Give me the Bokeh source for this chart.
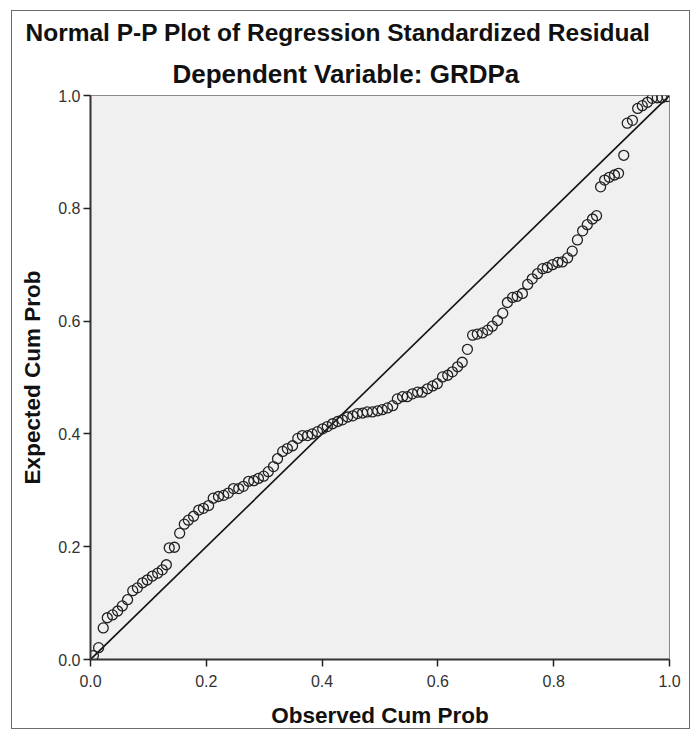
from bokeh.plotting import figure
from bokeh.models import Title, FixedTicker, PrintfTickFormatter
from bokeh.embed import file_html
from bokeh.resources import INLINE

# Observed cumulative probability (x) and expected cumulative probability (y)
observed = [
    0.005, 0.014, 0.022, 0.029, 0.038, 0.047, 0.055, 0.064, 0.073, 0.081,
    0.090, 0.098, 0.107, 0.116, 0.124, 0.131, 0.136, 0.145, 0.154, 0.162,
    0.169, 0.178, 0.187, 0.195, 0.204, 0.212, 0.221, 0.230, 0.238, 0.247,
    0.256, 0.264, 0.273, 0.282, 0.290, 0.299, 0.307, 0.316, 0.323, 0.332,
    0.340, 0.349, 0.358, 0.366, 0.375, 0.383, 0.392, 0.401, 0.409, 0.418,
    0.427, 0.435, 0.444, 0.453, 0.461, 0.470, 0.478, 0.487, 0.496, 0.504,
    0.513, 0.522, 0.530, 0.539, 0.547, 0.556, 0.565, 0.573, 0.582, 0.591,
    0.599, 0.608, 0.617, 0.625, 0.634, 0.642, 0.651, 0.660, 0.668, 0.677,
    0.686, 0.694, 0.703, 0.712, 0.720, 0.729, 0.737, 0.746, 0.755, 0.763,
    0.772, 0.781, 0.789, 0.798, 0.807, 0.815, 0.824, 0.832, 0.841, 0.850,
    0.858, 0.867, 0.874, 0.881, 0.888, 0.896, 0.905, 0.912, 0.921, 0.927,
    0.936, 0.945, 0.953, 0.962, 0.970, 0.979, 0.987, 0.996,
]
expected = [
    0.007, 0.021, 0.056, 0.074, 0.079, 0.086, 0.095, 0.106, 0.122, 0.127,
    0.136, 0.141, 0.148, 0.153, 0.159, 0.168, 0.198, 0.199, 0.224, 0.240,
    0.247, 0.254, 0.265, 0.268, 0.273, 0.286, 0.289, 0.291, 0.295, 0.303,
    0.303, 0.307, 0.316, 0.317, 0.321, 0.325, 0.333, 0.342, 0.356, 0.369,
    0.374, 0.379, 0.392, 0.397, 0.397, 0.400, 0.404, 0.409, 0.413, 0.418,
    0.422, 0.425, 0.430, 0.432, 0.436, 0.437, 0.439, 0.439, 0.441, 0.443,
    0.446, 0.450, 0.462, 0.466, 0.466, 0.471, 0.474, 0.474, 0.480, 0.485,
    0.489, 0.501, 0.504, 0.510, 0.519, 0.527, 0.550, 0.575, 0.577, 0.579,
    0.584, 0.591, 0.601, 0.614, 0.633, 0.642, 0.644, 0.649, 0.665, 0.675,
    0.684, 0.693, 0.695, 0.700, 0.704, 0.705, 0.712, 0.724, 0.744, 0.760,
    0.771, 0.781, 0.787, 0.838, 0.850, 0.855, 0.859, 0.862, 0.894, 0.951,
    0.956, 0.977, 0.982, 0.988, 0.995, 0.996, 0.996, 0.998,
]
diag = [0.0, 1.0]
ticks = [0.0, 0.2, 0.4, 0.6, 0.8, 1.0]
title_text = "Normal P-P Plot of Regression Standardized Residual"
subtitle_text = "Dependent Variable: GRDPa"
x_label = "Observed Cum Prob"
y_label = "Expected Cum Prob"

FONT = "Liberation Sans"

p = figure(
    width=679, height=719,
    x_range=(0, 1), y_range=(0, 1),
    output_backend="svg", toolbar_location=None,
    title=None,
    min_border_left=78, min_border_right=22,
    min_border_top=84, min_border_bottom=68,
    background_fill_color="#f0f0f0",
    border_fill_color="white",
)
p.styles = {"border": "1px solid #6b6b6b"}
p.margin = (10, 0, 0, 11)

sub = Title(text=subtitle_text, align="left", text_font=FONT,
            text_font_size="26px", text_font_style="bold", text_color="#111111",
            standoff=13, offset=82)
main = Title(text=title_text, align="left", text_font=FONT,
             text_font_size="24.5px", text_font_style="bold", text_color="#111111",
             standoff=9, offset=-65)
p.add_layout(sub, "above")
p.add_layout(main, "above")

p.grid.visible = False
p.outline_line_color = "#8a8a8a"
p.outline_line_width = 1

for ax in (p.xaxis, p.yaxis):
    ax.ticker = FixedTicker(ticks=ticks)
    ax.formatter = PrintfTickFormatter(format="%.1f")
    ax.minor_tick_line_color = None
    ax.major_tick_out = 7
    ax.major_tick_in = 0
    ax.major_tick_line_color = "#222222"
    ax.major_tick_line_width = 1.5
    ax.axis_line_color = "#333333"
    ax.axis_line_width = 2
    ax.major_label_text_font = FONT
    ax.major_label_text_font_size = "16px"
    ax.major_label_text_color = "#333333"
    ax.axis_label_text_font = FONT
    ax.axis_label_text_font_size = "22.5px"
    ax.axis_label_text_font_style = "bold"
    ax.axis_label_text_color = "#111111"

p.xaxis.axis_label = x_label
p.yaxis.axis_label = y_label
p.xaxis.major_label_standoff = 8
p.yaxis.major_label_standoff = 3
p.xaxis.axis_label_standoff = 13
p.yaxis.axis_label_standoff = 10

p.line(diag, diag, line_color="#111111", line_width=1.6)
p.scatter(observed, expected, marker="circle", size=10, fill_color=None,
          line_color="#222222", line_width=1.3)

open("out.html", "w").write(file_html(p, INLINE))
